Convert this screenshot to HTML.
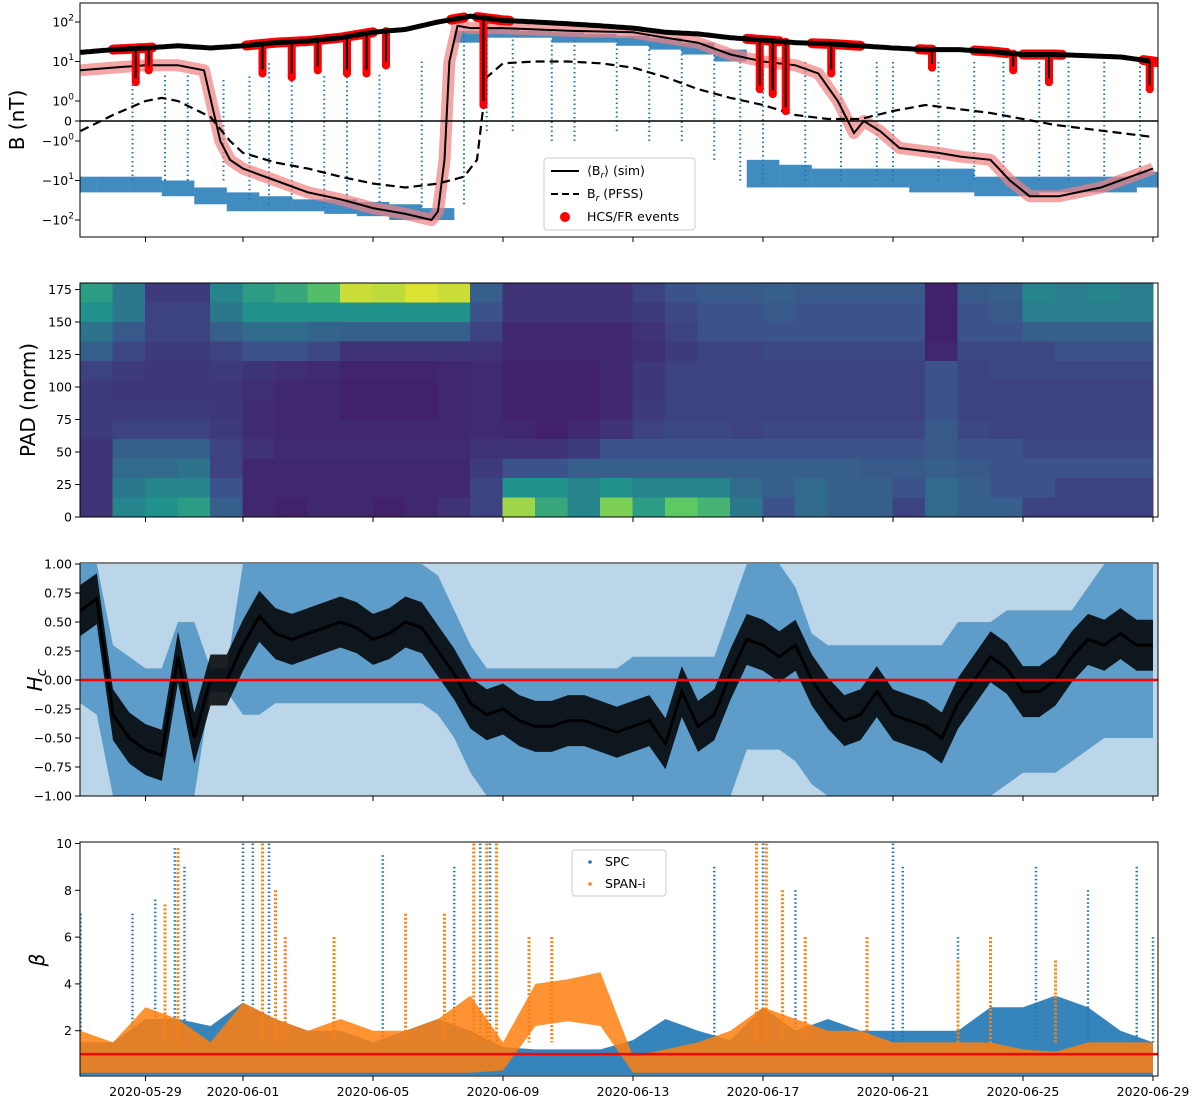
<!DOCTYPE html>
<html><head><meta charset="utf-8"><style>
html,body{margin:0;padding:0;background:#fff;}
svg{display:block;font-family:"DejaVu Sans","Liberation Sans",sans-serif;}
</style></head><body>
<svg id="fig" xmlns="http://www.w3.org/2000/svg" width="1200" height="1100" viewBox="0 0 1200 1100">
<rect x="0" y="0" width="1200" height="1100" fill="#fff"/>
</svg>
<script>
// ---------- shared axis ----------
const xTickDays = [2,5,9,13,17,21,25,29,33];
const xTickLabels = ['2020-05-29','2020-06-01','2020-06-05','2020-06-09','2020-06-13','2020-06-17','2020-06-21','2020-06-25','2020-06-29'];
// ---------- panel 1: B ----------
const b1TickVals = [100,10,1,0,-1,-10,-100];
const b1TickBase = ['10','10','10','0','\u221210','\u221210','\u221210'];
const b1TickExp = ['2','1','0','','0','1','2'];
const bMag = [17,20,22,25,22,25,30,33,40,55,65,100,140,110,100,90,80,70,55,50,40,35,30,28,25,22,20,20,18,15,15,14,13,10];
const brLo = [-20,-20,-20,-25,-40,-60,-60,-60,-70,-80,-100,-100,30,40,40,30,30,25,20,15,10,-15,-15,-15,-15,-15,-20,-20,-25,-25,-20,-20,-20,-15];
const brHi = [-8,-8,-8,-10,-15,-20,-25,-30,-30,-35,-40,-50,60,70,60,55,50,45,40,30,20,-3,-4,-5,-5,-5,-5,-5,-8,-8,-8,-8,-8,-6];
const brSpikes = [[1.6,-10,3],[2.6,-10,5],[3.3,-10,5],[4.4,-10,4],[5.2,-30,5],[5.8,-40,10],[6.5,-30,5],[7.5,-50,5],[8.2,-40,10],[9.2,-60,5],[10.5,-80,10],[11.8,-40,80],[12.5,-0.5,40],[13.3,-0.5,40],[14.5,-1,40],[15.2,-1,40],[16.5,-0.5,40],[17.5,-1,30],[18.5,-1,30],[19.5,-3,20],[20.3,-10,15],[21,-12,10],[22.3,-10,10],[23.4,-10,10],[24.5,-10,10],[25,-10,10],[26.4,-10,10],[27.5,-10,10],[28.4,-10,10],[29.5,-10,10],[30.4,-10,10],[31.5,-10,10],[32.6,-10,10]];
const simDays = [0,1,2,3,3.8,4.3,4.6,5,6,7,8,9,10,10.8,11.0,11.2,11.35,11.6,12,13,15,17,18,19,20,21,22,22.7,23.3,23.8,24.1,24.6,25.2,26.4,27.1,28,28.6,29.2,30.1,31.4,33];
const simVals = [6,7,8,8,6,-1,-3,-5,-10,-20,-30,-50,-70,-100,-60,-3,10,80,70,70,60,55,40,30,15,10,8,5,1,-0.6,0,-0.5,-1.5,-2,-2.5,-3,-10,-25,-25,-15,-5];
const pfssDays = [0,1,2,2.5,3,4,4.6,5,6,7,8,9,10,11,11.8,12.2,12.5,13,14,15,16,17,18,19,20,21,22,23,24,25,26,27,28,29,30,31,32,33];
const pfssVals = [-0.5,0.3,1.0,1.2,1.0,0.2,-1,-2,-3.5,-5,-8,-12,-15,-12,-8,-3,4,9,10,10,9,7,4,2,1.2,0.8,0.3,0.1,0.1,0.5,0.8,0.6,0.4,0.1,-0.2,-0.4,-0.6,-0.8];
const hcsIntervals = [[1.0,2.2],[5.1,9.0],[11.4,11.8],[12.2,13.2],[20.5,21.5],[22.5,24.0],[25.8,26.2],[27.5,28.5],[29.0,30.2],[32.7,33.1]];
const hcsDips = [[1.7,3],[2.1,6],[5.6,5],[6.5,4],[7.3,6],[8.2,5],[8.8,5],[9.4,8],[12.4,0.8],[20.9,2],[21.3,1.5],[21.7,0.5],[23.1,5],[26.2,7],[28.7,6],[29.8,3],[32.9,2]];
// ---------- panel 2: PAD heatmap (rows bottom->top, 15 deg each, daily) ----------
const padTickVals = [0,25,50,75,100,125,150,175];
const padRows = [
 [0.15,0.45,0.5,0.55,0.3,0.12,0.1,0.12,0.12,0.1,0.12,0.15,0.2,0.85,0.6,0.45,0.8,0.55,0.75,0.65,0.4,0.25,0.35,0.3,0.3,0.2,0.35,0.3,0.3,0.2,0.2,0.2,0.2],
 [0.15,0.4,0.45,0.45,0.25,0.12,0.12,0.12,0.12,0.12,0.12,0.12,0.2,0.5,0.5,0.45,0.5,0.45,0.45,0.45,0.35,0.3,0.35,0.3,0.3,0.25,0.35,0.3,0.25,0.25,0.2,0.2,0.2],
 [0.15,0.35,0.35,0.38,0.2,0.12,0.12,0.12,0.12,0.12,0.12,0.12,0.18,0.25,0.25,0.3,0.3,0.3,0.3,0.3,0.3,0.3,0.3,0.3,0.28,0.28,0.3,0.28,0.25,0.25,0.25,0.25,0.25],
 [0.15,0.3,0.3,0.3,0.2,0.15,0.13,0.13,0.13,0.13,0.13,0.13,0.15,0.15,0.15,0.18,0.25,0.25,0.25,0.25,0.25,0.25,0.25,0.25,0.25,0.25,0.28,0.25,0.25,0.22,0.22,0.22,0.22],
 [0.18,0.2,0.2,0.2,0.18,0.13,0.12,0.12,0.12,0.12,0.12,0.12,0.13,0.12,0.1,0.12,0.15,0.2,0.22,0.22,0.2,0.22,0.22,0.22,0.22,0.22,0.28,0.22,0.2,0.2,0.2,0.2,0.2],
 [0.18,0.18,0.18,0.18,0.17,0.13,0.12,0.12,0.1,0.1,0.1,0.12,0.13,0.1,0.1,0.1,0.12,0.18,0.2,0.2,0.2,0.2,0.2,0.2,0.2,0.2,0.25,0.2,0.2,0.2,0.2,0.2,0.2],
 [0.18,0.17,0.17,0.17,0.17,0.14,0.12,0.12,0.1,0.1,0.1,0.12,0.13,0.1,0.1,0.1,0.12,0.17,0.2,0.2,0.2,0.2,0.2,0.2,0.2,0.2,0.25,0.2,0.2,0.2,0.2,0.2,0.2],
 [0.2,0.18,0.17,0.17,0.18,0.16,0.14,0.13,0.11,0.11,0.11,0.12,0.13,0.1,0.1,0.1,0.12,0.17,0.2,0.2,0.2,0.2,0.2,0.2,0.2,0.2,0.25,0.2,0.22,0.22,0.22,0.22,0.22],
 [0.3,0.22,0.18,0.18,0.2,0.25,0.25,0.22,0.15,0.15,0.15,0.15,0.15,0.12,0.12,0.12,0.12,0.14,0.18,0.2,0.2,0.22,0.22,0.22,0.22,0.22,0.12,0.22,0.22,0.22,0.25,0.25,0.25],
 [0.38,0.28,0.2,0.2,0.3,0.35,0.35,0.32,0.3,0.3,0.3,0.3,0.2,0.12,0.12,0.12,0.12,0.15,0.2,0.25,0.25,0.25,0.25,0.25,0.25,0.25,0.1,0.25,0.25,0.3,0.3,0.3,0.3],
 [0.5,0.4,0.2,0.2,0.4,0.5,0.5,0.5,0.5,0.5,0.5,0.5,0.25,0.15,0.15,0.15,0.15,0.18,0.22,0.25,0.25,0.28,0.25,0.25,0.25,0.25,0.1,0.25,0.28,0.42,0.42,0.42,0.42],
 [0.55,0.4,0.18,0.18,0.45,0.55,0.6,0.7,0.92,0.9,0.95,0.92,0.3,0.15,0.15,0.15,0.15,0.2,0.25,0.28,0.28,0.3,0.28,0.28,0.28,0.28,0.1,0.28,0.3,0.45,0.42,0.45,0.42]
];
// ---------- panel 3: Hc (half-day) ----------
const hcTickVals = [1,0.75,0.5,0.25,0,-0.25,-0.5,-0.75,-1];
const hcTickLabels = ['1.00','0.75','0.50','0.25','0.00','\u22120.25','\u22120.50','\u22120.75','\u22121.00'];
const hcMid = [0.6,0.7,-0.3,-0.5,-0.6,-0.65,0.2,-0.5,0.0,0.0,0.3,0.55,0.4,0.35,0.4,0.45,0.5,0.45,0.35,0.4,0.5,0.45,0.25,0.05,-0.2,-0.3,-0.25,-0.35,-0.4,-0.4,-0.35,-0.35,-0.4,-0.45,-0.4,-0.35,-0.55,-0.1,-0.4,-0.3,0.05,0.35,0.3,0.2,0.3,0.0,-0.2,-0.35,-0.3,-0.1,-0.3,-0.35,-0.4,-0.5,-0.2,0.0,0.2,0.1,-0.1,-0.1,0.0,0.2,0.35,0.3,0.4,0.3,0.3];
const hcBlueLo = [-0.2,-0.3,-1,-1,-1,-1,-1,-1,-0.1,-0.1,-0.3,-0.3,-0.2,-0.2,-0.2,-0.2,-0.2,-0.2,-0.2,-0.2,-0.2,-0.2,-0.3,-0.5,-0.8,-1,-1,-1,-1,-1,-1,-1,-1,-1,-1,-1,-1,-1,-1,-1,-1,-0.6,-0.6,-0.6,-0.7,-0.9,-1,-1,-1,-1,-1,-1,-1,-1,-1,-1,-1,-0.9,-0.8,-0.8,-0.8,-0.7,-0.6,-0.5,-0.5,-0.5,-0.5];
const hcBlueHi = [1,1,0.3,0.2,0.1,0.1,0.5,0.5,0.1,0.1,1,1,1,1,1,1,1,1,1,1,1,1,0.9,0.6,0.3,0.1,0.1,0.1,0.1,0.1,0.1,0.1,0.1,0.1,0.2,0.2,0.2,0.2,0.2,0.2,0.6,1,1,1,0.8,0.4,0.3,0.3,0.3,0.3,0.3,0.3,0.3,0.3,0.5,0.5,0.5,0.6,0.6,0.6,0.6,0.6,0.8,1,1,1,1];
// ---------- panel 4: beta (daily) ----------
const betaTickVals = [2,4,6,8,10];
const spcHi = [1.5,1.5,2.5,2.5,2.2,3.2,2.5,2,2,1.5,2,2.5,2,1.3,1.2,1.2,1.2,1.6,2.5,2,1.6,3,2,2.5,2,2,2,2,3,3,3.5,3,2,1.5];
const spanLo = [0.2,0.2,0.2,0.2,0.2,0.2,0.2,0.2,0.2,0.2,0.2,0.2,0.2,0.3,2.2,2.4,2.2,0.2,0.2,0.2,0.2,0.2,0.2,0.2,0.2,0.2,0.2,0.2,0.2,0.2,0.2,0.2,0.2,0.2];
const spanHi = [2,1.5,3,2.5,1.5,3.2,2.5,2,2.5,2,2,2.5,3.5,1.5,4,4.2,4.5,0.9,1.2,1.5,2,3,2.5,2,2,1.5,1.5,1.5,1.5,1.2,1.1,1.5,1.5,1.5];
const spcSpikes = [[0,7],[1.6,7],[2.3,7.6],[2.9,9.8],[3.2,9],[5,10],[5.3,10],[5.8,10],[9.3,9.5],[11.5,9],[12.3,10],[12.6,10],[19.5,9],[21,10],[22,8],[25,10],[25.3,9],[27,6],[29.4,9],[31,8],[32.5,9],[33,6]];
const spanSpikes = [[2.6,7.4],[3.0,9.8],[5.6,10],[6,8],[6.3,6],[7.8,6],[10,7],[11.2,7],[12.1,10],[12.5,10],[12.8,10],[13.8,6],[14.5,6],[20.8,10],[21.1,10],[21.6,8],[22.3,6],[24.2,6],[27,5],[28,6],[30,5]];

// ---------- helpers ----------
const NS='http://www.w3.org/2000/svg';
const svg=document.getElementById('fig');
function mk(tag, attrs, parent){const e=document.createElementNS(NS,tag);for(const k in attrs)e.setAttribute(k,attrs[k]);(parent||svg).appendChild(e);return e;}
const L=80,R=1158;
const xDay=d=>80.5+32.5*d;
const yB=v=>{const a=Math.abs(v);const s=v<0?-1:1;return a<=1?121-20*v:121-s*(20+39.5*Math.log10(a));};
const yPad=deg=>517-1.3*deg;
const yHc=v=>680-116*v;
const yBeta=v=>1077.5-23.4*v;
const panels=[[3,237],[283,517],[563,796],[842,1076]];
function viridis(t){const st=[[68,1,84],[59,82,139],[33,145,140],[94,201,98],[253,231,37]];t=Math.max(0,Math.min(1,t))*4;const i=Math.min(3,Math.floor(t));const f=t-i;const c=st[i].map((v,k)=>Math.round(v+(st[i+1][k]-v)*f));return 'rgb('+c.join(',')+')';}
function ptsStr(xs,ys){return xs.map((x,i)=>x.toFixed(1)+','+ys[i].toFixed(1)).join(' ');}
function clipFor(i){const c=mk('clipPath',{id:'clip'+i});mk('rect',{x:L,y:panels[i][0],width:R-L,height:panels[i][1]-panels[i][0]},c);return 'url(#clip'+i+')';}

// ============ PANEL 1 ============
const g1=mk('g',{'clip-path':clipFor(0)});


// blue Br band (daily steps)
brHi.forEach((v,i)=>{const yt=yB(v),yb=yB(brLo[i]);
 const r=mk('rect',{x:xDay(i-0.5),y:Math.min(yt,yb),width:32.6,height:Math.abs(yb-yt),fill:'#1f77b4','fill-opacity':0.85},g1);
 
 });
brSpikes.forEach(s=>{const l=mk('line',{x1:xDay(s[0]),x2:xDay(s[0]),y1:yB(s[1]),y2:yB(s[2]),stroke:'#1f77b4','stroke-width':2,'stroke-dasharray':'1.5 3'},g1);

});
// sim translucent band + line
{const xs=simDays.map(xDay),ys=simVals.map(yB);
const band=mk('polyline',{points:ptsStr(xs,ys),fill:'none',stroke:'#f08080','stroke-width':12,'stroke-opacity':0.7,'stroke-linejoin':'round'},g1);


const ln=mk('polyline',{points:ptsStr(xs,ys),fill:'none',stroke:'#000','stroke-width':2},g1);

}
{const pf=mk('polyline',{points:ptsStr(pfssDays.map(xDay),pfssVals.map(yB)),fill:'none',stroke:'#000','stroke-width':2.2,'stroke-dasharray':'9 5'},g1);

}
// red HCS intervals along |B|
const bAt=d=>{const i=Math.min(bMag.length-2,Math.floor(d));const f=d-i;return Math.exp(Math.log(bMag[i])*(1-f)+Math.log(bMag[i+1])*f);};
hcsIntervals.forEach(iv=>{const xs=[],ys=[];for(let d=iv[0];d<=iv[1]+1e-6;d+=0.1){xs.push(xDay(d));ys.push(yB(bAt(d)));}
const r=mk('polyline',{points:ptsStr(xs,ys),fill:'none',stroke:'#ff0000','stroke-width':10,'stroke-linecap':'round','stroke-linejoin':'round'},g1);

});
hcsDips.forEach(dp=>{const x=xDay(dp[0]);
const r=mk('line',{x1:x,x2:x,y1:yB(bAt(dp[0])),y2:yB(dp[1]),stroke:'#ff0000','stroke-width':8,'stroke-linecap':'round'},g1);


const bl=mk('line',{x1:x,x2:x,y1:yB(bAt(dp[0])),y2:yB(dp[1]),stroke:'#000','stroke-width':2},g1);


const c=mk('circle',{cx:x,cy:yB(dp[1]),r:4,fill:'#ff0000'},g1);

});
{const xs=[],ys=[];for(let d=0;d<=33;d+=0.1){xs.push(xDay(d));ys.push(yB(bAt(d)));}
const m=mk('polyline',{points:ptsStr(xs,ys),fill:'none',stroke:'#000','stroke-width':5},g1);

}
{const z=mk('line',{x1:L,x2:R,y1:yB(0),y2:yB(0),stroke:'#000','stroke-width':1.5});

}

// ============ PANEL 2 ============
const g2=mk('g',{'clip-path':clipFor(1)});


padRows.forEach((row,ri)=>{row.forEach((v,di)=>{
 const c=mk('rect',{x:xDay(di)-0.5,y:yPad((ri+1)*15),width:33.5,height:19.5,fill:viridis(v)},g2);
 
 });});

// ============ PANEL 3 ============
const g3=mk('g',{'clip-path':clipFor(2)});


{const xs=[],ys=[];hcBlueHi.forEach((v,i)=>{xs.push(xDay(i*0.5));ys.push(yHc(v));});for(let i=hcBlueLo.length-1;i>=0;i--){xs.push(xDay(i*0.5));ys.push(yHc(hcBlueLo[i]));}
const bg=mk('rect',{x:L,y:564,width:R-L,height:232,fill:'#1f77b4','fill-opacity':0.3},g3);


const p=mk('polygon',{points:ptsStr(xs,ys),fill:'#1f77b4','fill-opacity':0.6},g3);

}
{const xs=[],ys=[];hcMid.forEach((v,i)=>{xs.push(xDay(i*0.5));ys.push(yHc(Math.min(1,v+0.22)));});for(let i=hcMid.length-1;i>=0;i--){xs.push(xDay(i*0.5));ys.push(yHc(Math.max(-1,hcMid[i]-0.22)));}
const p=mk('polygon',{points:ptsStr(xs,ys),fill:'#000','fill-opacity':0.85},g3);


const l=mk('polyline',{points:ptsStr(hcMid.map((v,i)=>xDay(i*0.5)),hcMid.map(yHc)),fill:'none',stroke:'#000','stroke-width':3},g3);

}
{const z=mk('line',{x1:L,x2:R,y1:yHc(0),y2:yHc(0),stroke:'#ff0000','stroke-width':2.5});

}

// ============ PANEL 4 ============
const g4=mk('g',{'clip-path':clipFor(3)});


{const xs=[],ys=[];spcHi.forEach((v,i)=>{xs.push(xDay(i));ys.push(yBeta(v));});xs.push(xDay(33),xDay(0));ys.push(yBeta(0.1),yBeta(0.1));
const p=mk('polygon',{points:ptsStr(xs,ys),fill:'#1f77b4','fill-opacity':0.9},g4);

}
spcSpikes.forEach(s=>{const l=mk('line',{x1:xDay(s[0]),x2:xDay(s[0]),y1:yBeta(s[1]),y2:yBeta(1.5),stroke:'#1f77b4','stroke-width':2.5,'stroke-dasharray':'1.5 2.5'},g4);

});
{const xs=[],ys=[];spanHi.forEach((v,i)=>{xs.push(xDay(i));ys.push(yBeta(v));});for(let i=spanLo.length-1;i>=0;i--){xs.push(xDay(i));ys.push(yBeta(spanLo[i]));}
const p=mk('polygon',{points:ptsStr(xs,ys),fill:'#ff7f0e','fill-opacity':0.85},g4);

}
spanSpikes.forEach(s=>{const l=mk('line',{x1:xDay(s[0]),x2:xDay(s[0]),y1:yBeta(s[1]),y2:yBeta(1.5),stroke:'#ff7f0e','stroke-width':3,'stroke-dasharray':'2 2'},g4);

});
{const z=mk('line',{x1:L,x2:R,y1:yBeta(1),y2:yBeta(1),stroke:'#ff0000','stroke-width':2.5});

}

// ============ AXES ============
panels.forEach((p,i)=>{
 const fr=mk('rect',{x:L,y:p[0],width:R-L,height:p[1]-p[0],fill:'none',stroke:'#000','stroke-width':1});
 
 
 xTickDays.forEach((d,k)=>{const t=mk('line',{x1:xDay(d),x2:xDay(d),y1:p[1],y2:p[1]+5,stroke:'#000','stroke-width':1});
  
  
  if(i===3){const tx=mk('text',{x:xDay(d),y:1096,'text-anchor':'middle','font-size':12.5,fill:'#000'});tx.textContent=xTickLabels[k];
   
   }});
});
function yTick(y,lab){const t=mk('line',{x1:L-5,x2:L,y1:y,y2:y,stroke:'#000','stroke-width':1});
 
 
 const tx=mk('text',{x:L-8,y:y+4.5,'text-anchor':'end','font-size':12.5,fill:'#000'});tx.textContent=lab;
 
 return tx;}
b1TickVals.forEach((v,i)=>{const tx=yTick(yB(v),b1TickBase[i]);if(b1TickExp[i]){const s=mk('tspan',{dy:-6,'font-size':9},tx);s.textContent=b1TickExp[i];tx.setAttribute('x',L-6);}});
padTickVals.forEach(v=>yTick(yPad(v),String(v)));
hcTickVals.forEach((v,i)=>yTick(yHc(v),hcTickLabels[i]));
betaTickVals.forEach(v=>yTick(yBeta(v),String(v)));
function ylab(x,y,txt,name,italic){const t=mk('text',{x:x,y:y,transform:'rotate(-90 '+x+' '+y+')','text-anchor':'middle','font-size':20,fill:'#000','font-style':italic?'italic':'normal'});t.textContent=txt;
 
 return t;}
ylab(24,120,'B (nT)','b-axis-title',false);
ylab(35,400,'PAD (norm)','pad-axis-title',false);
{const t=ylab(42,680,'H','hc-axis-title',true);const s=mk('tspan',{dy:4,'font-size':14},t);s.textContent='c';}
ylab(44,960,'\u03b2','beta-axis-title',true);

// ============ LEGENDS ============
{const lg=mk('g',{});


const bx=mk('rect',{x:544,y:158,width:151,height:72,rx:3,fill:'#fff','fill-opacity':0.85,stroke:'#ccc'},lg);


const l1=mk('line',{x1:551,x2:579,y1:171,y2:171,stroke:'#000','stroke-width':2},lg);


const t1=mk('text',{x:587,y:175,'font-size':12.5},lg);t1.textContent='\u27e8B';const s1=mk('tspan',{'font-size':9,dy:3,'font-style':'italic'},t1);s1.textContent='r';const s1b=mk('tspan',{dy:-3},t1);s1b.textContent='\u27e9 (sim)';


const l2=mk('line',{x1:551,x2:579,y1:194,y2:194,stroke:'#000','stroke-width':2,'stroke-dasharray':'7 4'},lg);


const t2=mk('text',{x:587,y:198,'font-size':12.5},lg);t2.textContent='B';const s2=mk('tspan',{'font-size':9,dy:3,'font-style':'italic'},t2);s2.textContent='r';const s2b=mk('tspan',{dy:-3},t2);s2b.textContent=' (PFSS)';


const c3=mk('circle',{cx:565,cy:217,r:5,fill:'#ff0000'},lg);


const t3=mk('text',{x:587,y:221,'font-size':12.5},lg);t3.textContent='HCS/FR events';

}
{const lg=mk('g',{});


const bx=mk('rect',{x:572,y:850,width:94,height:46,rx:3,fill:'#fff','fill-opacity':0.85,stroke:'#ccc'},lg);


const c1=mk('circle',{cx:590,cy:862,r:1.8,fill:'#1f77b4'},lg);


const t1=mk('text',{x:605,y:866,'font-size':12.5},lg);t1.textContent='SPC';


const c2=mk('circle',{cx:590,cy:884,r:1.8,fill:'#ff7f0e'},lg);


const t2=mk('text',{x:605,y:888,'font-size':12.5},lg);t2.textContent='SPAN-i';

}
</script>
</body></html>
